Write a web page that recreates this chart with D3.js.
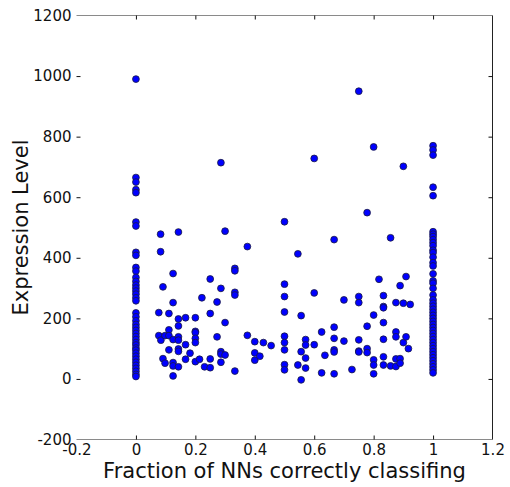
<!DOCTYPE html>
<html>
<head>
<meta charset="utf-8">
<script src="https://cdn.jsdelivr.net/npm/d3@7"></script>
<style>
  body { margin: 0; background: #fff; }
  svg { display: block; font-family: "DejaVu Sans", sans-serif; }
</style>
</head>
<body>
<svg id="chart" width="510" height="487"></svg>
<script>
// genes where no NN classified correctly (fraction = 0)
var exprAtZero = [990, 665, 650, 625, 615, 518, 505, 418, 408, 368, 356, 335, 322, 310,
  300, 290, 280, 268, 258, 218, 205, 192, 180, 170, 160, 150, 140, 130, 120, 112, 102,
  95, 85, 75, 65, 55, 45, 35, 25, 15, 8];

// genes where every NN classified correctly (fraction = 1)
var exprAtOne = [770, 756, 739, 633, 605, 486, 478, 470, 460, 450, 440, 425, 417, 402,
  384, 373, 347, 324, 316, 299, 277, 261, 250, 240, 230, 220, 210, 200, 190, 180, 170,
  160, 150, 140, 130, 120, 110, 100, 90, 80, 70, 60, 50, 40, 30, 20];

// everything in between
var midFrac = [0.083, 0.083, 0.077, 0.077, 0.084, 0.091, 0.091, 0.098, 0.098, 0.111, 0.111,
  0.111, 0.111, 0.125, 0.125, 0.125, 0.125, 0.125, 0.125, 0.143, 0.143, 0.143, 0.143,
  0.143, 0.143, 0.143, 0.143, 0.167, 0.167, 0.167, 0.182, 0.2, 0.2, 0.2, 0.2, 0.2, 0.2,
  0.214, 0.222, 0.231, 0.25, 0.25, 0.25, 0.25, 0.273, 0.273, 0.286, 0.286, 0.286, 0.286,
  0.286, 0.3, 0.3, 0.3, 0.333, 0.333, 0.333, 0.333, 0.333, 0.375, 0.375, 0.4, 0.4, 0.4,
  0.417, 0.429, 0.455, 0.5, 0.5, 0.5, 0.5, 0.5, 0.5, 0.5, 0.5, 0.5, 0.545, 0.545, 0.556,
  0.556, 0.556, 0.571, 0.571, 0.571, 0.571, 0.6, 0.6, 0.6, 0.625, 0.625, 0.636, 0.667,
  0.667, 0.667, 0.667, 0.667, 0.667, 0.7, 0.7, 0.727, 0.75, 0.75, 0.75, 0.75, 0.75, 0.75,
  0.778, 0.778, 0.778, 0.778, 0.8, 0.8, 0.8, 0.8, 0.8, 0.818, 0.833, 0.833, 0.833, 0.833,
  0.833, 0.833, 0.833, 0.857, 0.857, 0.875, 0.875, 0.875, 0.875, 0.875, 0.889, 0.889,
  0.889, 0.9, 0.9, 0.9, 0.909, 0.909, 0.923, 0.917];
var midExpr = [478, 420, 219, 143, 128, 304, 67, 143, 52, 216, 162,
  143, 96, 348, 252, 130, 54, 43, 10, 485, 198, 175, 139,
  128, 99, 91, 40, 202, 113, 65, 85, 202, 157, 153, 134, 120, 57,
  65, 268, 40, 330, 216, 66, 37, 254, 139, 714, 299, 90, 82,
  55, 488, 186, 79, 365, 357, 286, 277, 26, 437, 144, 123, 86, 62,
  75, 120, 110, 519, 313, 272, 221, 141, 120, 96, 47, 30, 413, 46, 209,
  90, -3, 130, 112, 69, 36, 728, 284, 113, 155, 20, 78, 460,
  171, 134, 96, 89, 17, 261, 125, 31, 950, 272, 252, 129, 92, 89,
  549, 174, 100, 87, 766, 211, 63, 46, 17, 329, 275, 239, 235, 186,
  131, 73, 46, 466, 43, 252, 155, 139, 66, 41, 308, 67,
  52, 702, 250, 120, 338, 139, 246, 100];

var xTicks = [-0.2, 0, 0.2, 0.4, 0.6, 0.8, 1, 1.2];
var yTicks = [-200, 0, 200, 400, 600, 800, 1000, 1200];

var points = [];
exprAtZero.forEach(function(v) { points.push({frac: 0, expr: v}); });
midFrac.forEach(function(f, i) { points.push({frac: f, expr: midExpr[i]}); });
exprAtOne.forEach(function(v) { points.push({frac: 1, expr: v}); });

var svg = d3.select("#chart");
var plotL = 76.5, plotR = 492.5, plotT = 15.5, plotB = 439.5;

var x = d3.scaleLinear().domain([-0.2, 1.2]).range([plotL, plotR]);
var y = d3.scaleLinear().domain([-200, 1200]).range([plotB, plotT]);

var fmt = function(d) { return String(Math.round(d * 10) / 10); };

// spines: top/bottom grey, right black, no left one
svg.append("line").attr("x1", plotL).attr("x2", plotR).attr("y1", plotT).attr("y2", plotT)
  .attr("stroke", "#8a8a8a");
svg.append("line").attr("x1", plotL).attr("x2", plotR).attr("y1", plotB).attr("y2", plotB)
  .attr("stroke", "#8a8a8a");
svg.append("line").attr("x1", plotR).attr("x2", plotR).attr("y1", plotT).attr("y2", plotB)
  .attr("stroke", "#222");

var inner = function(v, dom) { return v > dom[0] && v < dom[1]; };

var gx = svg.append("g").attr("transform", "translate(0," + plotB + ")")
  .call(d3.axisBottom(x).tickValues(xTicks).tickFormat(fmt).tickSize(-4).tickPadding(5));
var gy = svg.append("g").attr("transform", "translate(" + plotL + ",0)")
  .call(d3.axisLeft(y).tickValues(yTicks).tickFormat(fmt).tickSize(-4).tickPadding(5));
var gt = svg.append("g").attr("transform", "translate(0," + plotT + ")")
  .call(d3.axisTop(x).tickValues(xTicks).tickFormat("").tickSize(-4));
var gr = svg.append("g").attr("transform", "translate(" + plotR + ",0)")
  .call(d3.axisRight(y).tickValues(yTicks).tickFormat("").tickSize(-4));

[gx, gy, gt, gr].forEach(function(g) {
  g.select(".domain").remove();
  g.selectAll("text").attr("font-size", 15).attr("fill", "#111")
    .attr("font-family", "DejaVu Sans, sans-serif");
  g.selectAll("line").attr("stroke", "#111");
});
gx.selectAll(".tick line").filter(function(d) { return !inner(d, [-0.2, 1.2]); }).remove();
gt.selectAll(".tick line").filter(function(d) { return !inner(d, [-0.2, 1.2]); }).remove();
gy.selectAll(".tick line").filter(function(d) { return !inner(d, [-200, 1200]); }).remove();
gr.selectAll(".tick line").filter(function(d) { return !inner(d, [-200, 1200]); }).remove();

svg.append("g").selectAll("circle")
  .data(points)
  .enter().append("circle")
    .attr("cx", function(d) { return x(d.frac); })
    .attr("cy", function(d) { return y(d.expr); })
    .attr("r", 3.4)
    .attr("fill", "#0000ff")
    .attr("stroke", "#1a1a40")
    .attr("stroke-width", 0.8);

svg.append("text")
  .attr("x", (plotL + plotR) / 2).attr("y", 478)
  .attr("text-anchor", "middle").attr("font-size", 21).attr("fill", "#111")
  .text("Fraction of NNs correctly classifing");

svg.append("text")
  .attr("transform", "translate(28," + ((plotT + plotB) / 2) + ") rotate(-90)")
  .attr("text-anchor", "middle").attr("font-size", 21).attr("fill", "#111")
  .text("Expression Level");
</script>
</body>
</html>
